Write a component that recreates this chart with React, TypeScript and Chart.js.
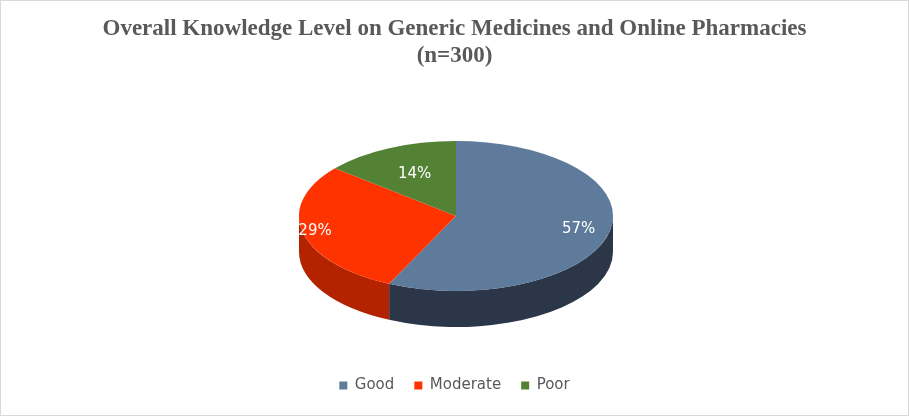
import React, { useEffect, useRef } from "react";
import { Chart, registerables } from "chart.js";
Chart.register(...registerables);

const categories = ["Good", "Moderate", "Poor"];
const values = [57, 29, 14];
const topColors = ["#5f7b9c", "#ff3300", "#548235"];
const sideColors = ["#2b3748", "#b32300", "#3b5c25"];
const labelFactors = [0.8, 0.92, 0.62];

const RX = 157, RY = 75, DEPTH = 36, CX = 455, CY = 215;

const pie3d = {
  id: "pie3d",
  beforeDatasetsDraw(chart: any) {
    const ctx = chart.ctx;
    const meta = chart.getDatasetMeta(0);
    const arcs = meta.data;
    if (!arcs.length) return;
    arcs.forEach((a: any, i: number) => {
      const s = a.startAngle, e = a.endAngle;
      const norm = (v: number) => { while (v < 0) v += Math.PI * 2; while (v >= Math.PI * 2) v -= Math.PI * 2; return v; };
      const a0 = norm(s); const a1 = a0 + (e - s);
      for (const off of [0, Math.PI * 2]) {
        const lo = Math.max(a0, off), hi = Math.min(a1, off + Math.PI);
        if (hi <= lo) continue;
        ctx.save();
        ctx.beginPath();
        ctx.ellipse(CX, CY, RX, RY, 0, lo, hi, false);
        ctx.ellipse(CX, CY + DEPTH, RX, RY, 0, hi, lo, true);
        ctx.closePath();
        ctx.fillStyle = sideColors[i];
        ctx.fill();
        ctx.restore();
      }
    });
    const a = arcs[0];
    ctx.save();
    ctx.translate(CX, CY);
    ctx.scale(RX / a.outerRadius, RY / a.outerRadius);
    ctx.translate(-a.x, -a.y);
  },
  afterDatasetsDraw(chart: any) {
    const ctx = chart.ctx;
    ctx.restore();
    const arcs = chart.getDatasetMeta(0).data;
    ctx.save();
    ctx.font = "15px 'DejaVu Sans'";
    ctx.fillStyle = "#ffffff";
    ctx.textAlign = "center";
    ctx.textBaseline = "middle";
    arcs.forEach((a: any, i: number) => {
      const m = (a.startAngle + a.endAngle) / 2;
      const f = labelFactors[i];
      ctx.fillText(values[i] + "%", CX + Math.cos(m) * RX * f, CY + Math.sin(m) * RY * f);
    });
    ctx.restore();
  },
};

export default function App() {
  const ref = useRef<HTMLCanvasElement>(null);
  useEffect(() => {
    document.body.style.margin = "0";
    const chart = new Chart(ref.current!, {
      type: "pie",
      data: {
        labels: categories,
        datasets: [{ data: values, backgroundColor: topColors, borderWidth: 0 }],
      },
      options: {
        animation: false,
        responsive: false,
        events: [],
        layout: { padding: { top: 10, bottom: 12 } },
        plugins: {
          title: {
            display: true,
            text: ["Overall Knowledge Level on Generic Medicines and Online Pharmacies", "(n=300)"],
            color: "#595959",
            font: { family: "'Liberation Serif'", size: 23, weight: "bold", lineHeight: 1.2 },
            padding: { top: 4, bottom: 10 },
          },
          legend: {
            position: "bottom",
            labels: {
              usePointStyle: true,
              pointStyle: "rect",
              boxWidth: 8,
              boxHeight: 8,
              color: "#595959",
              font: { family: "'DejaVu Sans'", size: 15 },
              padding: 20,
            },
          },
          tooltip: { enabled: false },
        },
      },
      plugins: [pie3d],
    });
    return () => chart.destroy();
  }, []);
  return (
    <div style={{ width: 907, height: 414, border: "1px solid #d9d9d9", background: "#fff" }}>
      <canvas ref={ref} width={907} height={414} />
    </div>
  );
}
